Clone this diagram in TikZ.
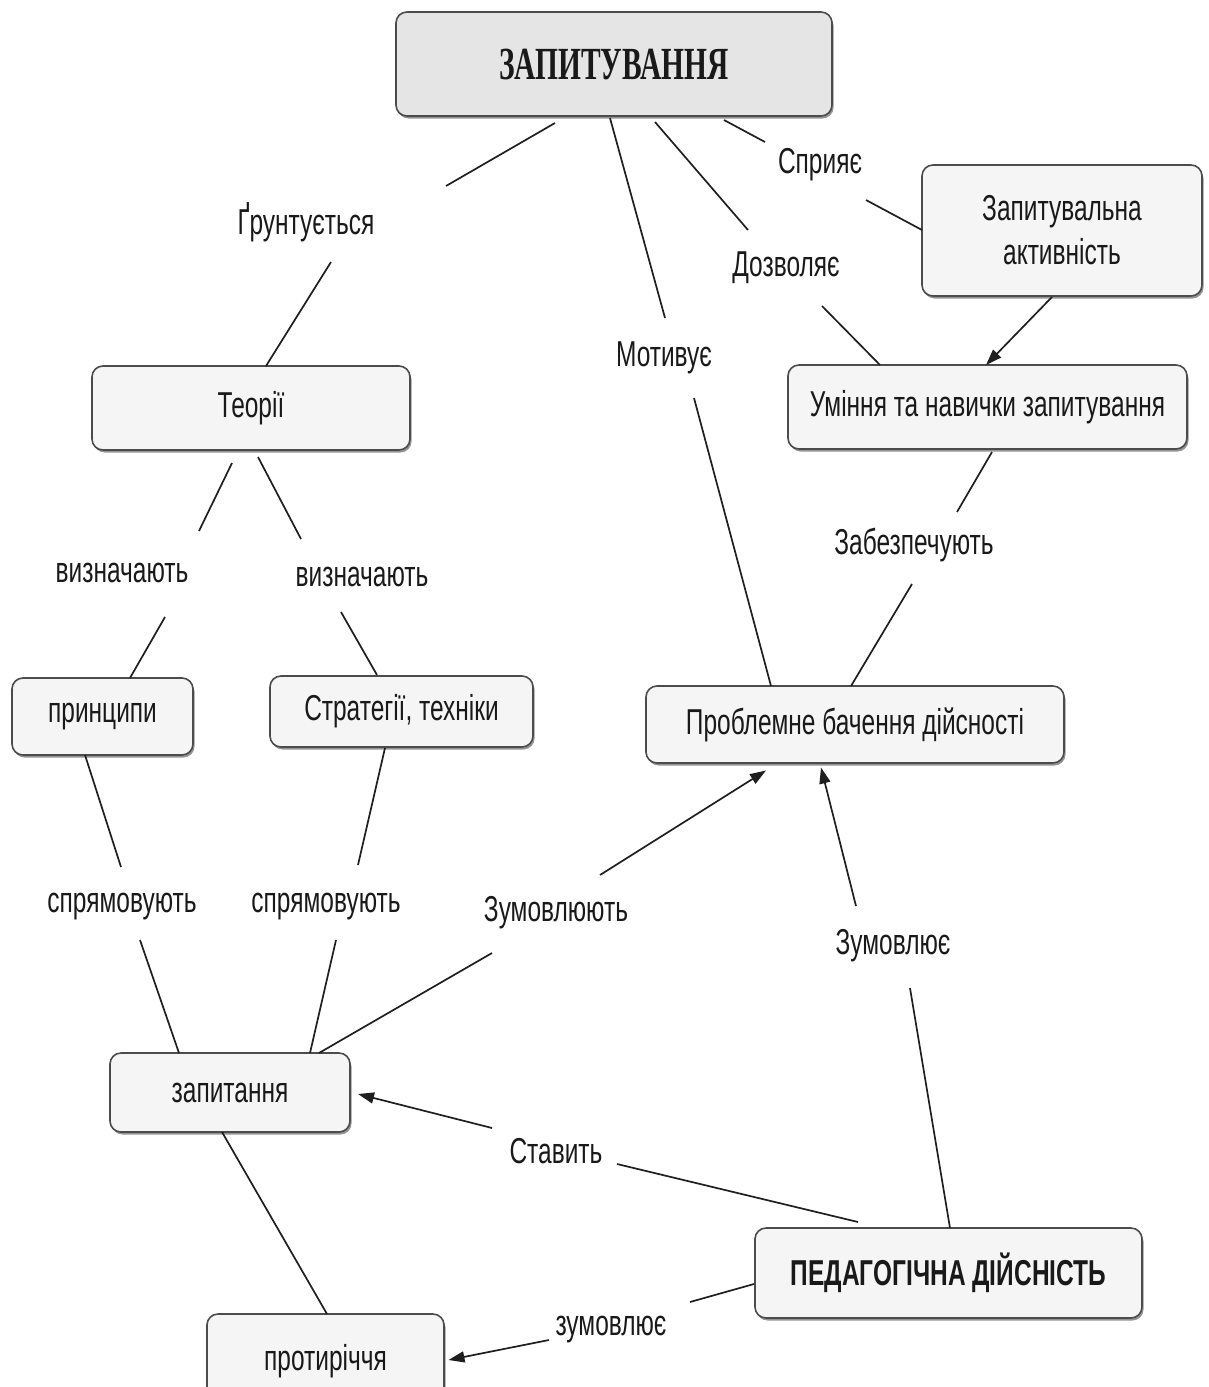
\documentclass[tikz,border=0pt]{standalone}
\usepackage{fontspec}
\setmainfont[FakeStretch=0.68]{Liberation Sans}
\newfontfamily\titlefont[FakeStretch=0.64]{Liberation Serif}
\usetikzlibrary{arrows.meta,shadows}
\begin{document}
\begin{tikzpicture}[x=1pt,y=-1pt,
  every node/.style={font=\fontsize{36}{42}\selectfont, text=black!90},
  box/.style={draw=black!70, line width=1.6pt, rounded corners=11pt, fill=black!4,
    align=center, inner sep=0pt,
    drop shadow={shadow xshift=1.5pt, shadow yshift=-2.5pt, fill=black!60, opacity=0.7}},
  lbl/.style={inner sep=0pt},
  link/.style={draw=black!88, line width=1.7pt},
  arr/.style={link, -{Triangle[length=16pt,width=11pt]}},
]
\useasboundingbox (0,0) rectangle (1208,1387);

% concept boxes
\node[box, fill=black!10, minimum width=436, minimum height=104]
  (top) at (614,64) {\titlefont\bfseries\fontsize{46}{50}\selectfont ЗАПИТУВАННЯ};
\node[box, minimum width=318, minimum height=84] (theory) at (251,408) {Теорії};
\node[box, minimum width=280, minimum height=131] (act) at (1062,230.5)
  {Запитувальна\\[2pt]активність};
\node[box, minimum width=399, minimum height=84] (skill) at (987.5,407)
  {Уміння та навички запитування};
\node[box, minimum width=181, minimum height=77] (princ) at (102.5,716.5) {принципи};
\node[box, minimum width=263, minimum height=71] (strat) at (401.5,711.5)
  {Стратегії, техніки};
\node[box, minimum width=418, minimum height=77] (probl) at (855,724.5)
  {Проблемне бачення дійсності};
\node[box, minimum width=240, minimum height=79] (quest) at (230,1092.5) {запитання};
\node[box, minimum width=387, minimum height=90] (ped) at (948.5,1273)
  {\bfseries ПЕДАГОГІЧНА ДІЙСНІСТЬ};
\node[box, minimum width=237, minimum height=94] (contr) at (325.5,1361) {\raisebox{6pt}{протиріччя}};

% link labels
\node[lbl] (grunt) at (306,222) {Ґрунтується};
\node[lbl] (motiv) at (664,358) {Мотивує};
\node[lbl] (dozv)  at (786,268) {Дозволяє};
\node[lbl] (spr)   at (820,165) {Сприяє};
\node[lbl] (viz1)  at (122,573) {визначають};
\node[lbl] (viz2)  at (362,577) {визначають};
\node[lbl] (zab)   at (914,545) {Забезпечують};
\node[lbl] (sprm1) at (122,907) {спрямовують};
\node[lbl] (sprm2) at (326,907) {спрямовують};
\node[lbl] (zumt)  at (556,913) {Зумовлюють};
\node[lbl] (zum)   at (893,946) {Зумовлює};
\node[lbl] (stav)  at (556,1151) {Ставить};
\node[lbl] (zum2)  at (611,1330) {зумовлює};

% connectors
\path[link] ([shift={(-59,59)}]top.center) -- ([shift={(140,-36)}]grunt.center);
\path[link] ([shift={(25,40)}]grunt.center) -- ([shift={(15,-42)}]theory.center);
\path[link] ([shift={(-4,54)}]top.center) -- ([shift={(1,-40)}]motiv.center);
\path[link] ([shift={(30,40)}]motiv.center) -- ([shift={(-84,-38.5)}]probl.center);
\path[link] ([shift={(41,58)}]top.center) -- ([shift={(-38,-38)}]dozv.center);
\path[link] ([shift={(36,38)}]dozv.center) -- ([shift={(-107.5,-42)}]skill.center);
\path[link] ([shift={(110,56)}]top.center) -- ([shift={(-55,-23)}]spr.center);
\path[link] ([shift={(46,35)}]spr.center) -- ([shift={(-140,-0.5)}]act.center);
\path[arr]  ([shift={(-10,66.5)}]act.center) -- ([shift={(-1.5,-42)}]skill.center);
\path[link] ([shift={(4.5,45)}]skill.center) -- ([shift={(43,-33)}]zab.center);
\path[link] ([shift={(-2,39)}]zab.center) -- ([shift={(-4,-38.5)}]probl.center);
\path[link] ([shift={(-19,55)}]theory.center) -- ([shift={(77,-42)}]viz1.center);
\path[link] ([shift={(43,44)}]viz1.center) -- ([shift={(27.5,-38.5)}]princ.center);
\path[link] ([shift={(7,49)}]theory.center) -- ([shift={(-61,-38)}]viz2.center);
\path[link] ([shift={(-21,35)}]viz2.center) -- ([shift={(-24.5,-36.5)}]strat.center);
\path[link] ([shift={(-17.5,38.5)}]princ.center) -- ([shift={(-1,-40)}]sprm1.center);
\path[link] ([shift={(18,33)}]sprm1.center) -- ([shift={(-51,-39.5)}]quest.center);
\path[link] ([shift={(-16.5,36.5)}]strat.center) -- ([shift={(32,-42)}]sprm2.center);
\path[link] ([shift={(10,33)}]sprm2.center) -- ([shift={(80,-39.5)}]quest.center);
\path[link] ([shift={(89,-39.5)}]quest.center) -- ([shift={(-64,40)}]zumt.center);
\path[arr]  ([shift={(44,-38)}]zumt.center) -- ([shift={(-89,46)}]probl.center);
\path[link] ([shift={(1.5,-45)}]ped.center) -- ([shift={(17,42)}]zum.center);
\path[arr]  ([shift={(-37,-40)}]zum.center) -- ([shift={(-34,43)}]probl.center);
\path[link] ([shift={(-90.5,-51)}]ped.center) -- ([shift={(61,13)}]stav.center);
\path[arr]  ([shift={(-64,-23)}]stav.center) -- ([shift={(128,1.5)}]quest.center);
\path[link] ([shift={(-194.5,11)}]ped.center) -- ([shift={(79,-28)}]zum2.center);
\path[arr]  ([shift={(-62,10)}]zum2.center) -- ([shift={(123,-1)}]contr.center);
\path[link] ([shift={(-8,39.5)}]quest.center) -- ([shift={(1.5,-47)}]contr.center);
\end{tikzpicture}
\end{document}
